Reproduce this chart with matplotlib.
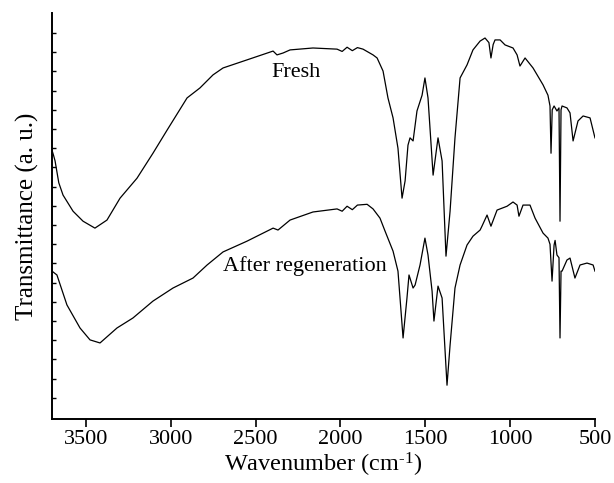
import matplotlib
matplotlib.use('Agg')
import matplotlib.pyplot as plt

plt.rcParams['font.family'] = ['Liberation Serif', 'DejaVu Serif']
plt.rcParams['mathtext.fontset'] = 'custom'
plt.rcParams['mathtext.rm'] = 'Liberation Serif'
plt.rcParams['mathtext.it'] = 'Liberation Serif:italic'

# FTIR spectra (wavenumber cm-1, transmittance a.u.)
fresh_wn = [3700, 3690, 3682, 3660, 3635, 3576, 3517, 3447, 3376, 3299, 3199,
            3105, 3022, 2904, 2828, 2751, 2692, 2551, 2397, 2374, 2338, 2297,
            2162, 2020, 1990, 1961, 1930, 1900, 1867, 1808, 1784, 1749, 1720,
            1690, 1661, 1637, 1619, 1602, 1590, 1572, 1549, 1519, 1502, 1484,
            1454, 1425, 1401, 1378, 1354, 1325, 1295, 1254, 1219, 1177, 1148,
            1125, 1113, 1100, 1089, 1059, 1030, 983, 959, 942, 912, 865, 806,
            777, 765, 759, 752, 741, 724, 712, 706, 700, 694, 665, 647, 629,
            600, 570, 529, 500]
fresh_t = [69.5, 68.0, 66.7, 61.0, 57.8, 53.6, 51.0, 49.2, 51.3, 57.0, 62.2,
           68.7, 74.7, 83.1, 85.7, 89.1, 90.9, 93.0, 95.3, 94.3, 94.8, 95.6,
           96.1, 95.8, 95.2, 96.3, 95.4, 96.2, 95.8, 94.3, 93.5, 90.1, 83.1,
           77.9, 70.0, 57.0, 61.5, 70.8, 72.7, 71.9, 79.7, 83.8, 88.3, 83.1,
           63.0, 72.7, 66.7, 41.9, 53.6, 72.7, 88.3, 91.7, 95.6, 97.9, 98.7,
           97.5, 93.5, 97.0, 98.2, 98.2, 96.9, 96.1, 94.3, 91.4, 93.5, 90.9,
           86.5, 83.8, 81.0, 68.7, 80.0, 81.0, 79.7, 80.5, 51.0, 80.0, 81.0,
           80.5, 79.2, 71.9, 77.1, 78.4, 77.9, 72.7]

regen_wn = [3700, 3671, 3612, 3535, 3476, 3417, 3317, 3223, 3105, 2987, 2869,
            2786, 2692, 2551, 2397, 2368, 2297, 2162, 2020, 1990, 1961, 1930,
            1900, 1843, 1808, 1767, 1737, 1690, 1661, 1631, 1608, 1596, 1572,
            1560, 1531, 1502, 1484, 1460, 1449, 1425, 1401, 1372, 1354, 1325,
            1295, 1254, 1219, 1177, 1166, 1136, 1113, 1077, 1018, 983, 959,
            948, 924, 883, 853, 806, 777, 765, 753, 741, 735, 724, 712, 706,
            700, 694, 665, 647, 618, 588, 547, 511, 500]
regen_t = [38.0, 37.0, 29.2, 23.2, 20.1, 19.3, 23.2, 25.8, 30.2, 33.6, 36.2,
           39.6, 43.0, 45.8, 49.2, 48.7, 51.3, 53.4, 54.2, 53.6, 54.9, 54.0,
           55.2, 55.4, 54.2, 51.8, 48.4, 43.2, 38.0, 20.6, 31.0, 37.0, 33.6,
           34.4, 39.6, 46.6, 42.2, 32.8, 25.0, 34.1, 31.0, 8.3, 18.7, 33.6,
           39.6, 44.8, 47.1, 48.7, 49.7, 52.6, 49.7, 53.9, 54.9, 56.0, 55.2,
           52.3, 55.2, 55.2, 51.8, 47.9, 46.6, 45.0, 35.4, 44.8, 46.0, 42.2,
           41.5, 20.6, 38.0, 38.0, 40.9, 41.4, 36.2, 39.6, 40.1, 39.6, 38.0]

fig = plt.figure(figsize=(6.14, 4.83), dpi=100)
ax = fig.add_axes([0.0847, 0.1325, 0.8843, 0.8405])

ax.plot(fresh_wn, fresh_t, color='black', lw=0.9)
ax.plot(regen_wn, regen_t, color='black', lw=0.9)

ax.text(2262, 89.6, 'Fresh', fontsize=16, ha='center', va='center')
ax.text(2209, 39.3, 'After regeneration', fontsize=16, ha='center', va='center')

ax.set_xlim(3700, 500)
ax.set_ylim(-0.5, 105.2)
ax.set_xticks([3500, 3000, 2500, 2000, 1500, 1000, 500])
ax.set_yticks(range(5, 101, 5))
ax.set_yticklabels([])

ax.spines['top'].set_visible(False)
ax.spines['right'].set_visible(False)
ax.spines['left'].set_linewidth(1.4)
ax.spines['bottom'].set_linewidth(1.4)
ax.tick_params(axis='x', direction='out', length=6, width=1.2, labelsize=16, pad=2)
ax.tick_params(axis='y', direction='in', length=3, width=1.0)

ax.set_xlabel(r'Wavenumber (cm$^{\text{-1}}$)', fontsize=17.5, labelpad=1)
ax.set_ylabel('Transmittance (a. u.)', fontsize=18, labelpad=6)

fig.savefig('out.png', dpi=100)
